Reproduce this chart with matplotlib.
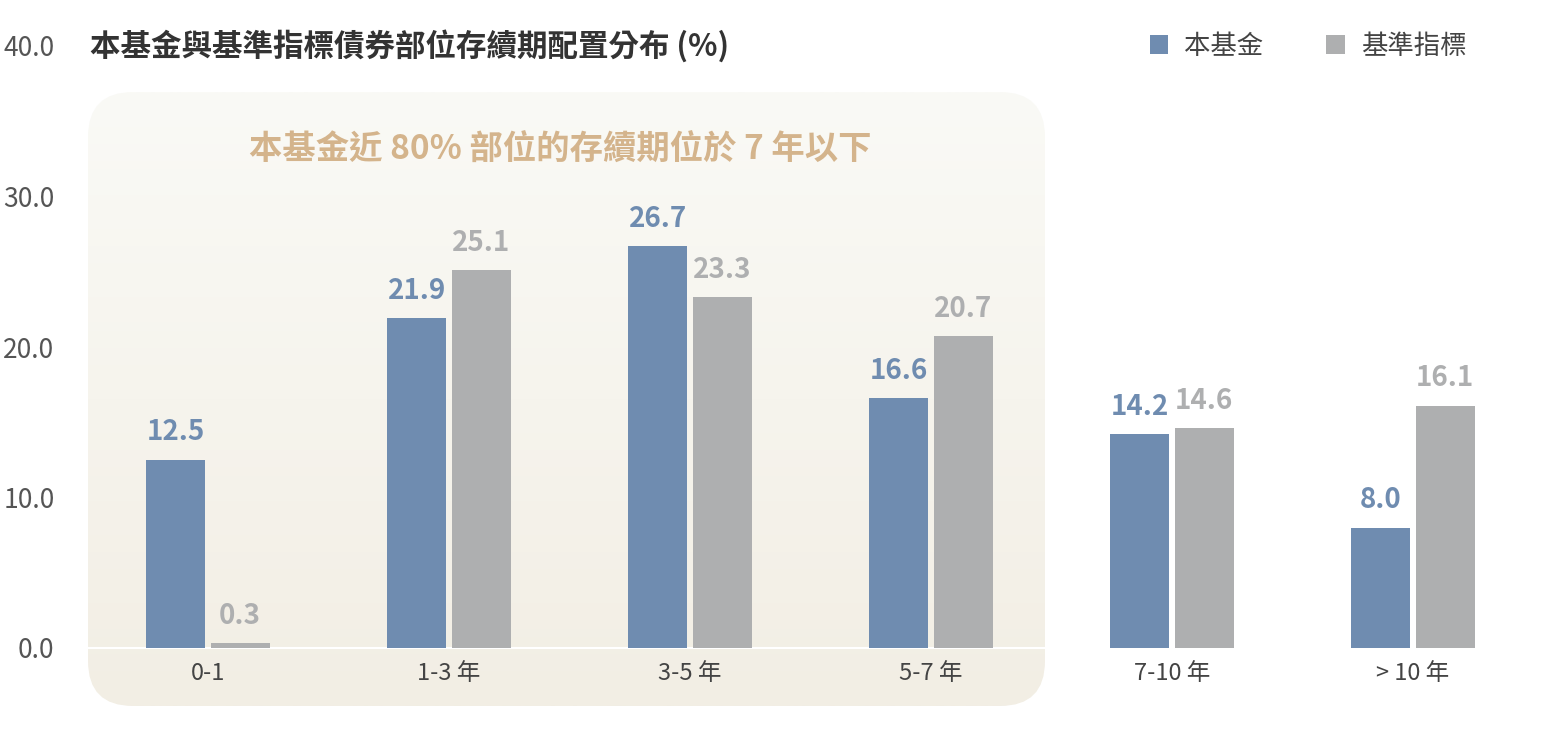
import numpy as np
import matplotlib.pyplot as plt
from matplotlib.patches import FancyBboxPatch

plt.rcParams['font.family'] = ['Noto Sans CJK TC', 'DejaVu Sans']

# data
categories = ['0-1', '1-3 年', '3-5 年', '5-7 年', '7-10 年', '> 10 年']
fund = [12.5, 21.9, 26.7, 16.6, 14.2, 8.0]
bench = [0.3, 25.1, 23.3, 20.7, 14.6, 16.1]
yticks = [0, 10, 20, 30, 40]

W, H = 1544, 729
fig = plt.figure(figsize=(W / 100, H / 100), dpi=100)

# background rounded gradient box (pixel coordinates)
bg = fig.add_axes([0, 0, 1, 1], zorder=0)
bg.set_xlim(0, W)
bg.set_ylim(H, 0)
bg.axis('off')
grad = np.linspace(0, 1, 256).reshape(-1, 1)
top = np.array([250, 250, 246]) / 255
bot = np.array([242, 238, 228]) / 255
img = top + (bot - top) * grad[..., None]
im = bg.imshow(img, extent=[88, 1045, 706, 92], aspect='auto')
box = FancyBboxPatch((88, 92), 957, 614, boxstyle='round,pad=0,rounding_size=45',
                     facecolor='none', edgecolor='none')
bg.add_patch(box)
im.set_clip_path(box)
bg.plot([88, 1045], [648, 648], color='white', lw=1.5)

# main axes
ax = fig.add_axes([60 / W, (H - 648) / H, 1460 / W, 602 / H], zorder=1)
ax.patch.set_alpha(0)
x = np.arange(len(categories))
w = 0.245
off = 0.133
blue, gray = '#6F8CB0', '#AEAFB0'
ax.bar(x - off, fund, w, color=blue, label='本基金')
ax.bar(x + off, bench, w, color=gray, label='基準指標')
for xi, f, b in zip(x, fund, bench):
    ax.text(xi - off, f + 0.9, f'{f:.1f}', ha='center', va='bottom',
            color=blue, fontsize=20, fontweight='bold')
    ax.text(xi + off, b + 0.9, f'{b:.1f}', ha='center', va='bottom',
            color=gray, fontsize=20, fontweight='bold')

ax.set_xlim(-148 / 241, (1520 - 208) / 241)
ax.set_ylim(0, 40)
ax.set_yticks(yticks)
ax.set_yticklabels([f'{v:.1f}' for v in yticks], fontsize=19, color='#555555')
ax.set_xticks(x)
ax.set_xticklabels(categories, fontsize=17, color='#444444')
ax.tick_params(length=0, pad=10)
ax.tick_params(axis='y', pad=4)
for s in ax.spines.values():
    s.set_visible(False)

# title, note, legend
fig.text(90 / W, 1 - 46 / H, '本基金與基準指標債券部位存續期配置分布 (%)', fontsize=22,
         fontweight='bold', color='#333333', va='center')
fig.text(560 / W, 1 - 150 / H, '本基金近 80% 部位的存續期位於 7 年以下', fontsize=24,
         fontweight='bold', color='#D4B48C', ha='center', va='center')
fig.legend(loc='center right', bbox_to_anchor=(1490 / W, 1 - 46 / H), ncol=2,
           frameon=False, fontsize=19, handlelength=0.7, handleheight=0.7,
           columnspacing=2.4, handletextpad=0.6, labelcolor='#444444')

fig.savefig('out.png', dpi=100)
